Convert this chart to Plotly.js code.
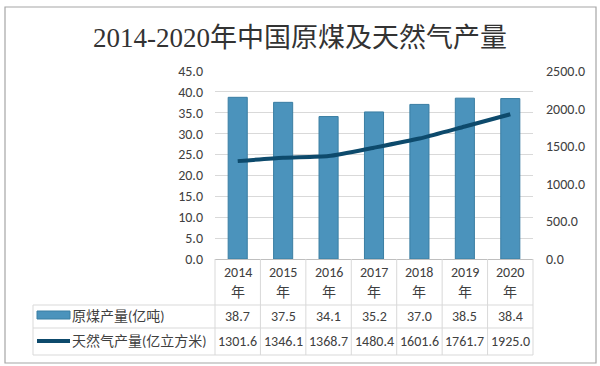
<!DOCTYPE html>
<html><head><meta charset="utf-8">
<script src="https://cdn.plot.ly/plotly-3.0.1.min.js"></script>
<style>html,body{margin:0;padding:0;background:#fff}#c{width:600px;height:366px}</style>
</head><body><div id="c"></div>
<script>
const years = ['2014','2015','2016','2017','2018','2019','2020'];
const yearSuffix = '年';
const coal = [38.7, 37.5, 34.1, 35.2, 37.0, 38.5, 38.4];
const gas = [1301.6, 1346.1, 1368.7, 1480.4, 1601.6, 1761.7, 1925.0];
const coalName = '原煤产量(亿吨)';
const gasName = '天然气产量(亿立方米)';
const titleText = '2014-2020年中国原煤及天然气产量';

const W = 600, H = 366, ML = 215, MR = 67, MT = 71, MB = 107;
const PW = W - ML - MR, PH = H - MT - MB;
const px = x => (x - ML) / PW;
const py = y => (H - MB - y) / PH;
const n = years.length;
const colEdge = i => i / n;
const colMid = i => (i + 0.5) / n;

const font = 'Calibri, Carlito, "Noto Sans CJK SC", sans-serif';
const cjk = 'Calibri, Carlito, "Noto Sans CJK SC", sans-serif';
const txt = '#404040';
const gridC = '#d9d9d9';
const tableC = '#d9d9d9';
const barC = '#4b93bc';
const lineC = '#0d4a6c';
const FS = 14;

const traces = [
  {type:'bar', x: years, y: coal, name: coalName, yaxis:'y',
   marker:{color: barC, line:{color:'#3a7ea3', width:1}}, width:0.42, hoverinfo:'y'},
  {type:'scatter', mode:'lines', x: years, y: gas, name: gasName, yaxis:'y2',
   line:{color: lineC, width:4, shape:'spline', smoothing:0.6}, hoverinfo:'y'}
];

const shapes = [];
const annotations = [];
shapes.push({type:'rect', xref:'paper', yref:'paper', x0:px(5), x1:px(596), y0:py(7), y1:py(363),
  line:{color:'#a6a6a6', width:1.2}, fillcolor:'rgba(0,0,0,0)', layer:'below'});
for (let i = 0; i <= n; i++) {
  shapes.push({type:'line', xref:'paper', yref:'paper', x0:colEdge(i), x1:colEdge(i), y0:py(259), y1:py(355),
    line:{color:tableC, width:1}});
}
shapes.push({type:'line', xref:'paper', yref:'paper', x0:px(33), x1:px(33), y0:py(305), y1:py(355),
  line:{color:tableC, width:1}});
[305, 328, 355].forEach(yy => {
  shapes.push({type:'line', xref:'paper', yref:'paper', x0:px(33), x1:1, y0:py(yy), y1:py(yy),
    line:{color:tableC, width:1}});
});
shapes.push({type:'rect', xref:'paper', yref:'paper', x0:px(37), x1:px(70), y0:py(311), y1:py(319),
  fillcolor: barC, line:{color:'#3a7ea3', width:1}});
shapes.push({type:'line', xref:'paper', yref:'paper', x0:px(37), x1:px(70), y0:py(341), y1:py(341),
  line:{color: lineC, width:4}});
annotations.push({xref:'paper', yref:'paper', x:px(70), y:py(316), xanchor:'left', yanchor:'middle',
  text: coalName, showarrow:false, font:{family:cjk, size:FS, color:txt}});
annotations.push({xref:'paper', yref:'paper', x:px(70), y:py(341), xanchor:'left', yanchor:'middle',
  text: gasName, showarrow:false, font:{family:cjk, size:FS, color:txt}});
years.forEach((yr, i) => {
  annotations.push({xref:'paper', yref:'paper', x:colMid(i), y:py(272), xanchor:'center', yanchor:'middle',
    text: yr, showarrow:false, font:{family:font, size:FS, color:txt}});
  annotations.push({xref:'paper', yref:'paper', x:colMid(i), y:py(292), xanchor:'center', yanchor:'middle',
    text: yearSuffix, showarrow:false, font:{family:cjk, size:FS, color:txt}});
  annotations.push({xref:'paper', yref:'paper', x:colMid(i), y:py(316), xanchor:'center', yanchor:'middle',
    text: coal[i].toFixed(1), showarrow:false, font:{family:font, size:FS, color:txt}});
  annotations.push({xref:'paper', yref:'paper', x:colMid(i), y:py(341), xanchor:'center', yanchor:'middle',
    text: gas[i].toFixed(1), showarrow:false, font:{family:font, size:FS, color:txt}});
});

const layout = {
  width: W, height: H,
  margin:{l:ML, r:MR, t:MT, b:MB, pad:0},
  paper_bgcolor:'#ffffff', plot_bgcolor:'#ffffff',
  showlegend:false,
  title:{text:titleText, x:0.5, xref:'container', xanchor:'center', y: 1 - 38/H, yref:'container', yanchor:'middle',
    font:{family:'"Liberation Serif", "Noto Sans CJK SC", serif', size:27, color:'#333333'}},
  xaxis:{type:'category', range:[-0.5, n - 0.5], showticklabels:false,
    showgrid:false, showline:true, linecolor:'#bfbfbf', linewidth:1, ticks:'', zeroline:false, fixedrange:true},
  yaxis:{range:[0,45], dtick:5, tickformat:'.1f', showgrid:true, gridcolor:gridC, gridwidth:1,
    zeroline:false, showline:false, ticks:'', ticklabelstandoff:11,
    tickfont:{family:font, size:FS, color:txt}, fixedrange:true},
  yaxis2:{range:[0,2500], dtick:500, tickformat:'.1f', overlaying:'y', side:'right',
    showgrid:false, zeroline:false, showline:false, ticks:'', ticklabelstandoff:12,
    tickfont:{family:font, size:FS, color:txt}, fixedrange:true},
  shapes: shapes,
  annotations: annotations
};

Plotly.newPlot('c', traces, layout, {displayModeBar:false, staticPlot:true});
</script></body></html>
